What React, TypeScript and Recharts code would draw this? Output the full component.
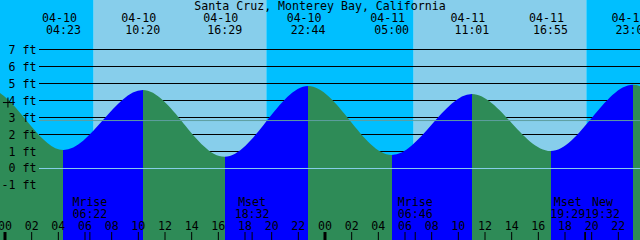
import React from "react";
import {
  ComposedChart,
  Area,
  XAxis,
  YAxis,
  ReferenceArea,
  ReferenceLine,
  ReferenceDot,
} from "recharts";

const title = "Santa Cruz, Monterey Bay, California";

// high / low tides printed along the top
const tideDates = ["04-10", "04-10", "04-10", "04-10", "04-11", "04-11", "04-11", "04-11"];
const tideClock = ["04:23", "10:20", "16:29", "22:44", "05:00", "11:01", "16:55", "23:06"];
const tideLevels = [1.09, 4.62, 0.69, 4.85, 0.79, 4.38, 1.03, 4.93];

// extremes outside the window, so the curve runs off both edges smoothly
const beforeHours = [-7.6, -1.3];
const beforeLevels = [0.9, 4.7];
const afterHours = [53.3, 59.4];
const afterLevels = [0.75, 4.4];

const sunriseHours = [6.65, 30.65];
const sunsetHours = [19.6, 43.6];

const moonKinds = ["Mrise", "Mset", "Mrise", "Mset", "New"];
const moonDays = [0, 0, 1, 1, 1];
const moonClock = ["06:22", "18:32", "06:46", "19:29", "19:32"];

const levelTicks = [-1, 0, 1, 2, 3, 4, 5, 6, 7];
const hourTicks = [0, 2, 4, 6, 8, 10, 12, 14, 16, 18, 20, 22, 24, 26, 28, 30, 32, 34, 36, 38, 40, 42, 44, 46];

const mslLevel = 2.82;
const nowHour = 0.22;
const nowLevel = 3.88;

// layout / style
const W = 640;
const H = 240;
const xDomain = [-0.375, 47.625];
const yDomain = [-4.206, 9.912];
const gridStartHour = 2.55;
const FONT = "DejaVu Sans Mono";
const FS = 11.6;
const NIGHT = "#00BFFF";
const DAY = "#87CEEB";
const FLOOD = "#0000FF";
const EBB = "#2E8B57";
const DATUM = "#87CEEB";
const MSL = "#5F9EA0";
const moonNudge: Record<number, number> = { 3: -17, 4: 17 };

const toHours = (day: number, clock: string) => {
  const [h, m] = clock.split(":").map(Number);
  return day * 24 + h + m / 60;
};

const tideHours = tideClock.map((c, i) => toHours(tideDates[i] === "04-10" ? 0 : 1, c));
const moonHours = moonClock.map((c, i) => toHours(moonDays[i], c));

const tideData = [
  ...beforeHours.map((hour, i) => ({ hour, level: beforeLevels[i] })),
  ...tideHours.map((hour, i) => ({ hour, level: tideLevels[i] })),
  ...afterHours.map((hour, i) => ({ hour, level: afterLevels[i] })),
];

// rising stretches blue, falling stretches green
const t0 = tideData[0].hour;
const span = tideData[tideData.length - 1].hour - t0;
const waterStops = tideData.slice(1).flatMap((p, i) => {
  const prev = tideData[i];
  const color = p.level > prev.level ? FLOOD : EBB;
  return [
    { offset: (prev.hour - t0) / span, color },
    { offset: (p.hour - t0) / span, color },
  ];
});

const skyBands = [
  { x1: xDomain[0], x2: sunriseHours[0], fill: NIGHT },
  { x1: sunriseHours[0], x2: sunsetHours[0], fill: DAY },
  { x1: sunsetHours[0], x2: sunriseHours[1], fill: NIGHT },
  { x1: sunriseHours[1], x2: sunsetHours[1], fill: DAY },
  { x1: sunsetHours[1], x2: xDomain[1], fill: NIGHT },
];

const textStyle = { fontFamily: FONT, fontSize: FS, fill: "#000" };

const BottomTick = (props: any) => {
  const { x, payload } = props;
  const v = payload.value;
  const mi = moonHours.indexOf(v);
  if (mi >= 0) {
    const cx = x + (moonNudge[mi] ?? 0);
    return (
      <g>
        <line x1={x} x2={x} y1={232} y2={240} stroke="#000" />
        <text x={cx} y={206} textAnchor="middle" {...textStyle}>
          {moonKinds[mi]}
        </text>
        <text x={cx} y={218} textAnchor="middle" {...textStyle}>
          {moonClock[mi]}
        </text>
      </g>
    );
  }
  const midnight = v % 24 === 0;
  return (
    <g>
      <line x1={x} x2={x} y1={232} y2={240} stroke="#000" strokeWidth={midnight ? 3 : 1} />
      <text x={x} y={230} textAnchor="middle" {...textStyle}>
        {String(v % 24).padStart(2, "0")}
      </text>
    </g>
  );
};

const TopTick = (props: any) => {
  const { x, payload } = props;
  const i = tideHours.indexOf(payload.value);
  return (
    <g>
      <text x={x - 4} y={21.5} textAnchor="middle" {...textStyle}>
        {tideDates[i]}
      </text>
      <text x={x} y={33.5} textAnchor="middle" {...textStyle}>
        {tideClock[i]}
      </text>
    </g>
  );
};

const LevelTick = (props: any) => (
  <text x={36.5} y={props.y + 4} textAnchor="end" {...textStyle}>
    {`${props.payload.value} ft`}
  </text>
);

const Cross = (props: any) => {
  const { cx, cy } = props;
  return <path d={`M${cx - 5},${cy}H${cx + 5}M${cx},${cy - 5}V${cy + 5}`} stroke="#000" strokeWidth={1} fill="none" />;
};

export default function App() {
  return (
    <div style={{ position: "absolute", left: 0, top: 0, width: W, height: H, overflow: "hidden" }}>
      <ComposedChart width={W} height={H} data={tideData} margin={{ top: 0, right: 0, bottom: 0, left: 0 }}>
        <defs>
          <linearGradient id="water" x1="0" y1="0" x2="1" y2="0">
            {waterStops.map((s, i) => (
              <stop key={i} offset={s.offset} stopColor={s.color} />
            ))}
          </linearGradient>
        </defs>
        {skyBands.map((b, i) => (
          <ReferenceArea
            key={"sky" + i}
            x1={b.x1}
            x2={b.x2}
            fill={b.fill}
            fillOpacity={1}
            stroke="none"
            ifOverflow="hidden"
            zIndex={-300}
          />
        ))}
        {levelTicks.map((v) => (
          <ReferenceLine
            key={"g" + v}
            segment={[
              { x: gridStartHour, y: v },
              { x: xDomain[1], y: v },
            ]}
            stroke="#000"
            strokeWidth={1}
            zIndex={-200}
          />
        ))}
        <Area
          dataKey="level"
          type="monotone"
          fill="url(#water)"
          fillOpacity={1}
          stroke="none"
          baseValue={yDomain[0]}
          dot={false}
          activeDot={false}
          isAnimationActive={false}
          zIndex={100}
        />
        <ReferenceLine
          segment={[
            { x: gridStartHour, y: 0 },
            { x: xDomain[1], y: 0 },
          ]}
          stroke={DATUM}
          strokeWidth={1}
          zIndex={300}
        />
        <ReferenceLine
          segment={[
            { x: gridStartHour, y: mslLevel },
            { x: xDomain[1], y: mslLevel },
          ]}
          stroke={MSL}
          strokeWidth={1}
          zIndex={300}
        />
        <XAxis
          dataKey="hour"
          type="number"
          domain={xDomain}
          allowDataOverflow
          ticks={[...hourTicks, ...moonHours]}
          interval={0}
          mirror
          height={30}
          axisLine={false}
          tickLine={false}
          tick={BottomTick}
        />
        <XAxis
          xAxisId="top"
          orientation="top"
          dataKey="hour"
          type="number"
          domain={xDomain}
          allowDataOverflow
          ticks={tideHours}
          interval={0}
          mirror
          height={30}
          axisLine={false}
          tickLine={false}
          tick={TopTick}
        />
        <YAxis
          type="number"
          domain={yDomain}
          allowDataOverflow
          ticks={levelTicks}
          interval={0}
          mirror
          width={40}
          axisLine={false}
          tickLine={false}
          tick={LevelTick}
        />
        <ReferenceDot x={nowHour} y={nowLevel} r={5} shape={Cross} zIndex={600} />
      </ComposedChart>
      <svg width={W} height={H} style={{ position: "absolute", left: 0, top: 0, pointerEvents: "none" }}>
        <text x={W / 2} y={9.5} textAnchor="middle" {...textStyle}>
          {title}
        </text>
      </svg>
    </div>
  );
}
